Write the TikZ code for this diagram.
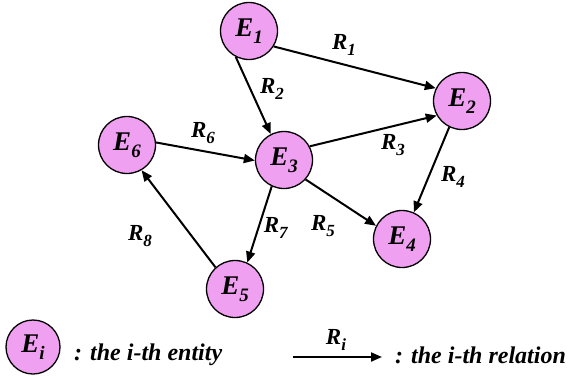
\documentclass[tikz,border=0pt]{standalone}
\usepackage{fontspec}
\setmainfont{Liberation Serif}
\usetikzlibrary{arrows.meta}
\definecolor{entfill}{RGB}{240,160,240}
\newcommand\symbE[2]{\textbf{\textit{#1}}\raisebox{-0.25em}{\fontsize{19}{19}\selectfont\textbf{\textit{#2}}}}
\newcommand\symbR[2]{\textbf{\textit{#1}}\raisebox{-0.25em}{\fontsize{17}{17}\selectfont\textbf{\textit{#2}}}}
\begin{document}
\begin{tikzpicture}[x=1pt,y=-1pt,
  ent/.style={circle,draw=black,line width=1.3pt,fill=entfill,minimum size=57pt,inner sep=0pt,font=\fontsize{27}{27}\selectfont},
  rel/.style={line width=2pt,-{Triangle[length=11pt,width=9pt]}},
  rlab/.style={font=\fontsize{23}{23}\selectfont,inner sep=0pt},
  legtxt/.style={font=\fontsize{24}{24}\selectfont\bfseries\itshape,anchor=west,inner sep=0pt}]
\useasboundingbox (0,0) rectangle (569,375);
\node[ent] (E1) at (249,31) {\symbE{E}{1}};
\node[ent] (E2) at (462,101) {\symbE{E}{2}};
\node[ent] (E3) at (284,160) {\symbE{E}{3}};
\node[ent] (E4) at (402,239) {\symbE{E}{4}};
\node[ent] (E5) at (235,289) {\symbE{E}{5}};
\node[ent] (E6) at (127,145) {\symbE{E}{6}};
\draw[rel] (E1.-32) -- (E2.154);
\draw[rel] (E1.243) -- (E3.117);
\draw[rel] (E6.5) -- (E3.181);
\draw[rel] (E3.28) -- (E2.210);
\draw[rel] (E2.244) -- (E4.66);
\draw[rel] (E3.-42) -- (E4.153);
\draw[rel] (E3.245) -- (E5.65);
\draw[rel] (E5.132) -- (E6.300);
\node[rlab] (R1) at (344,45) {\symbR{R}{1}};
\node[rlab] (R2) at (272,89) {\symbR{R}{2}};
\node[rlab] (R6) at (203,133) {\symbR{R}{6}};
\node[rlab] (R3) at (393,145) {\symbR{R}{3}};
\node[rlab] (R4) at (453,177) {\symbR{R}{4}};
\node[rlab] (R5) at (323,226) {\symbR{R}{5}};
\node[rlab] (R7) at (276,228) {\symbR{R}{7}};
\node[rlab] (R8) at (140,236) {\symbR{R}{8}};
% legend
\node[ent,minimum size=54pt] (Ei) at (33,347) {\symbE{E}{i}};
\node[legtxt] (tE) at (74,355) {: the i-th entity};
\coordinate (a0) at (293,357);
\coordinate (a1) at (382,357);
\draw[rel] (a0) -- (a1);
\node[rlab] (Ri) at (336,340) {\symbR{R}{i}};
\node[legtxt] (tR) at (395,355) {: the i-th relation};
\end{tikzpicture}
\end{document}
